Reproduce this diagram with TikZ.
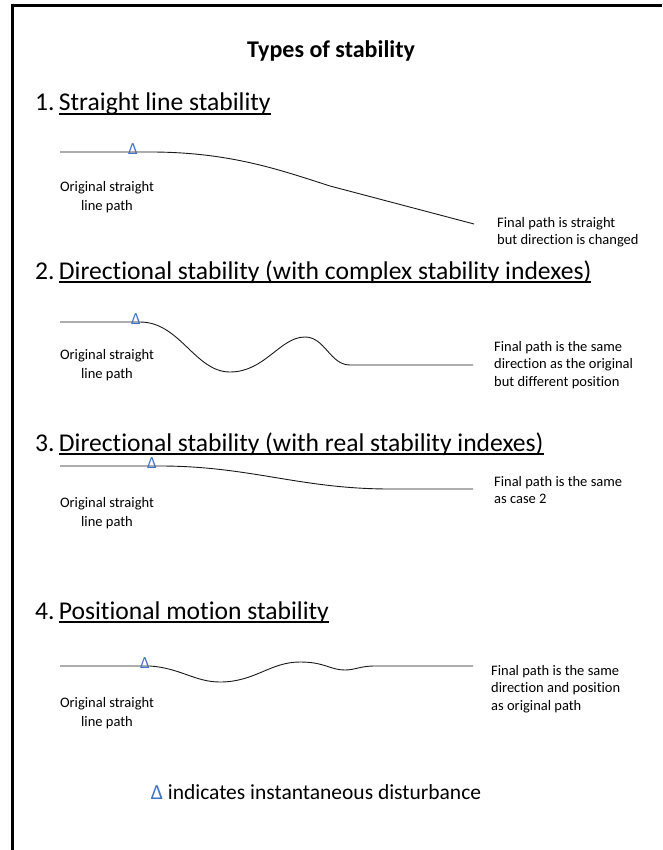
\documentclass[tikz,border=0pt]{standalone}
\usepackage{fontspec}
\setmainfont{Carlito}[Ligatures=NoCommon]
\usetikzlibrary{positioning}
\usepackage{xcolor}
\definecolor{stabblue}{HTML}{4472C4}
\newcommand{\ulined}[1]{\setbox0\hbox{#1}\rlap{\rule[-3.6pt]{\wd0}{1.2pt}}\box0}

\begin{document}
\begin{tikzpicture}[
    x=1pt, y=-1pt,
    heading/.style={
        anchor=base west,
        inner sep=0pt,
        font=\fontsize{25.6}{30}\selectfont
    },
    origtext/.style={
        align=center,
        inner sep=0pt,
        font=\fontsize{14.5}{18.5}\selectfont
    },
    finaltext/.style={
        align=left,
        anchor=west,
        inner sep=0pt,
        font=\fontsize{14.5}{17.5}\selectfont
    },
    disturb/.style={
        anchor=south,
        inner sep=0pt,
        text=stabblue,
        font=\fontsize{17}{17}\selectfont
    },
    pathline/.style={
        line width=0.9pt,
        black!90
    }
]
\useasboundingbox (0,0) rectangle (662,850);

% Frame
\draw[line width=3pt] (12,850) -- (12,6) -- (662,6);

% Title
\node[font=\fontsize{24}{28}\selectfont\bfseries, anchor=base] (title) at (331,58) {Types of stability};

% 1. Straight line stability
\node[heading] (h1) at (35,111) {1.\,\ulined{Straight line stability}};
\draw[pathline] (60,152) -- (150,152) .. controls (230,152) and (280,170) .. (330,186) -- (474,224);
\node[disturb] (tri1) at (133,155) {Δ};
\node[origtext] (orig1) at (107,197) {Original straight\\line path};
\node[finaltext] (final1) at (497,232) {Final path is straight\\but direction is changed};

% 2. Directional stability (complex)
\node[heading] (h2) at (35,279) {2.\,\ulined{Directional stability (with complex stability indexes)}};
\draw[pathline] (60,322) -- (140,322) .. controls (180,322) and (195,372) .. (230,372)
    .. controls (265,372) and (280,337) .. (305,337)
    .. controls (325,337) and (330,365) .. (350,365) -- (473,365);
\node[disturb] (tri2) at (136,325) {Δ};
\node[origtext] (orig2) at (107,365) {Original straight\\line path};
\node[finaltext] (final2) at (494,365) {Final path is the same\\direction as the original\\but different position};

% 3. Directional stability (real)
\node[heading] (h3) at (35,451) {3.\,\ulined{Directional stability (with real stability indexes)}};
\draw[pathline] (60,466) -- (160,466) .. controls (250,466) and (300,489) .. (390,489) -- (473,489);
\node[disturb] (tri3) at (152,469) {Δ};
\node[origtext] (orig3) at (107,513) {Original straight\\line path};
\node[finaltext] (final3) at (494,490) {Final path is the same\\as case 2};

% 4. Positional motion stability
\node[heading] (h4) at (35,619) {4.\,\ulined{Positional motion stability}};
\draw[pathline] (60,666) -- (150,666) .. controls (180,668) and (195,682) .. (220,682)
    .. controls (255,682) and (270,662) .. (300,662)
    .. controls (325,662) and (330,670) .. (345,670)
    .. controls (355,670) and (360,666) .. (375,666) -- (473,666);
\node[disturb] (tri4) at (145,669) {Δ};
\node[origtext] (orig4) at (107,713) {Original straight\\line path};
\node[finaltext] (final4) at (491,689) {Final path is the same\\direction and position\\as original path};

% Legend
\node[font=\fontsize{21.5}{25}\selectfont] (note) at (316,792) {\textcolor{stabblue}{Δ} indicates instantaneous disturbance};

\end{tikzpicture}
\end{document}
